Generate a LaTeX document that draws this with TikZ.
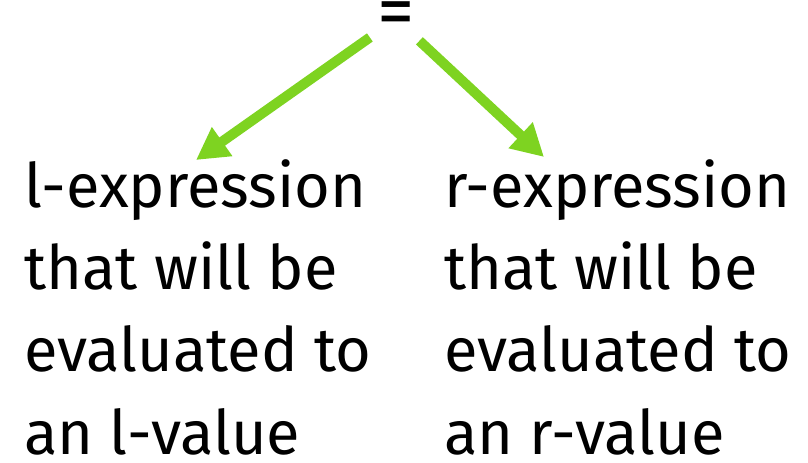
\documentclass[tikz,border=0pt]{standalone}
\usepackage{fontspec}
\setmainfont{Fira Sans}
\usepackage{tikz}
\usetikzlibrary{arrows.meta}
\definecolor{leafgreen}{HTML}{7ED321}

\begin{document}
\begin{tikzpicture}[
  x=0.75pt, y=-0.75pt,
  every node/.style={font=\fontsize{46}{61.8}\selectfont, align=left, inner sep=0pt},
  expr/.style={anchor=north west, text depth=0pt},
  arr/.style={-{Triangle[length=24pt,width=25pt]}, line width=7.5pt, draw=leafgreen, shorten <=24pt}
]
\useasboundingbox (0,0) rectangle (808,462);
\node[font=\fontsize{56}{56}\selectfont] (eq) at (396,19) {=};
\node[expr] (lexpr) at (24,159) {l-expression\\that will be\\evaluated to\\an l-value};
\node[expr] (rexpr) at (444,159) {r-expression\\that will be\\evaluated to\\an r-value};
\coordinate (ltip) at (196,160);
\coordinate (rtip) at (544,157);
\draw[arr] (eq.center) -- (ltip);
\draw[arr] (eq.center) -- (rtip);
\end{tikzpicture}
\end{document}
